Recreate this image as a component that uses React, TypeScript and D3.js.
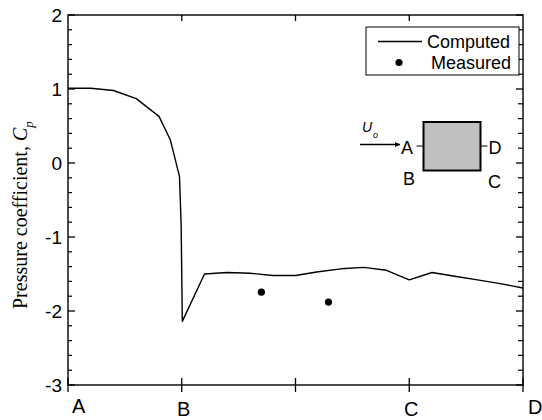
import React from 'react';
import * as d3 from 'd3';

// Computed Cp around the square (A -> B -> C -> D)
const computedPos = [0, 0.2, 0.4, 0.6, 0.8, 0.9, 0.98, 0.995, 1.005, 1.2, 1.4, 1.6, 1.8, 2.0, 2.2, 2.4, 2.6, 2.8, 3.0, 3.2, 3.4, 3.6, 3.8, 4.0];
const computedCp = [1.01, 1.01, 0.98, 0.87, 0.63, 0.31, -0.18, -0.85, -2.14, -1.5, -1.48, -1.49, -1.52, -1.52, -1.47, -1.43, -1.41, -1.45, -1.58, -1.48, -1.53, -1.58, -1.63, -1.69];

// Measured Cp
const measuredPos = [1.7, 2.29];
const measuredCp = [-1.745, -1.88];

const xTickValues = [0, 1, 2, 3, 4];
const xTickLabels = ['A', 'B', '', 'C', 'D'];
const yTickValues = [-3, -2, -1, 0, 1, 2];

const W = 542;
const H = 420;
const margin = { top: 15, right: 19, bottom: 35, left: 68 };
const sans = "'Liberation Sans', Arial, sans-serif";
const serif = "'Liberation Serif', 'Times New Roman', serif";

const App = () => {
  const x = d3.scaleLinear().domain([0, 4]).range([margin.left, W - margin.right]);
  const y = d3.scaleLinear().domain([-3, 2]).range([H - margin.bottom, margin.top]);

  const computed = computedPos.map((p, i) => ({ p, cp: computedCp[i] }));
  const measured = measuredPos.map((p, i) => ({ p, cp: measuredCp[i] }));

  const line = d3.line<{ p: number; cp: number }>()
    .x((d) => x(d.p))
    .y((d) => y(d.cp));

  const minorY = d3.range(-3, 2.0001, 0.2).filter((v) => Math.abs(v - Math.round(v)) > 1e-6);
  const [x0, x1] = x.range();
  const [yb, yt] = y.range();

  // label placement tweaks for the bottom letters
  const labelStyle = (i: number) => {
    if (i === 0) return { anchor: 'start', dx: 4, dy: 28 };
    if (i === xTickLabels.length - 1) return { anchor: 'start', dx: 5, dy: 29 };
    return { anchor: 'middle', dx: 2, dy: 31 };
  };

  return (
    <svg width={W} height={H} style={{ position: 'absolute', left: 0, top: 0, background: '#fff' }}>
      {/* y ticks, left and right, inward */}
      {yTickValues.map((v) => (
        <g key={'yt' + v}>
          <line x1={x0} x2={x0 + 7} y1={y(v)} y2={y(v)} stroke="#000" strokeWidth={1.3} />
          <line x1={x1} x2={x1 - 7} y1={y(v)} y2={y(v)} stroke="#000" strokeWidth={1.3} />
          <text x={x0 - 6} y={y(v)} textAnchor="end" dominantBaseline="central"
            fontFamily={sans} fontSize={19}>{v}</text>
        </g>
      ))}
      {minorY.map((v, i) => (
        <g key={'ym' + i}>
          <line x1={x0} x2={x0 + 4} y1={y(v)} y2={y(v)} stroke="#000" strokeWidth={1.2} />
          <line x1={x1} x2={x1 - 5} y1={y(v)} y2={y(v)} stroke="#000" strokeWidth={1.2} />
        </g>
      ))}

      {/* x ticks: top inward, bottom crossing */}
      {xTickValues.map((v, i) => {
        const s = labelStyle(i);
        return (
          <g key={'xt' + v}>
            {i > 0 && i < xTickValues.length - 1 && (
              <line x1={x(v)} x2={x(v)} y1={yt} y2={yt + 6} stroke="#000" strokeWidth={1.3} />
            )}
            <line x1={x(v)} x2={x(v)} y1={yb - 7} y2={yb + 7} stroke="#000" strokeWidth={1.3} />
            <text x={x(v) + s.dx} y={yb + s.dy} textAnchor={s.anchor}
              fontFamily={sans} fontSize={20}>{xTickLabels[i]}</text>
          </g>
        );
      })}

      {/* frame */}
      <rect x={x0} y={yt} width={x1 - x0} height={yb - yt} fill="none" stroke="#000" strokeWidth={1.4} />

      {/* computed line */}
      <path d={line(computed) || ''} fill="none" stroke="#000" strokeWidth={1.4} strokeLinejoin="round" />

      {/* measured points */}
      {measured.map((d, i) => (
        <circle key={'m' + i} cx={x(d.p)} cy={y(d.cp)} r={3.6} fill="#000" />
      ))}

      {/* y axis title */}
      <text transform={`translate(27, ${(yb + yt) / 2 + 109}) rotate(-90)`} fontFamily={serif} fontSize={20}>
        Pressure coefficient, <tspan fontStyle="italic">C</tspan>
        <tspan fontStyle="italic" fontSize={13} dy={6}>p</tspan>
      </text>

      {/* legend */}
      <g>
        <rect x={366} y={27} width={153} height={48} fill="#fff" stroke="#000" strokeWidth={1} />
        <line x1={378} x2={422} y1={41.5} y2={41.5} stroke="#000" strokeWidth={1.4} />
        <text x={427} y={48} fontFamily={sans} fontSize={18}>Computed</text>
        <circle cx={399} cy={62.5} r={3.6} fill="#000" />
        <text x={431} y={69} fontFamily={sans} fontSize={18}>Measured</text>
      </g>

      {/* inset sketch of the square cylinder */}
      <g fontFamily={sans} fontSize={18}>
        <defs>
          <marker id="ah" viewBox="0 0 10 10" refX={10} refY={5} markerWidth={8} markerHeight={5} orient="auto" markerUnits="userSpaceOnUse">
            <path d="M0,0 L10,5 L0,10 z" fill="#000" />
          </marker>
        </defs>
        <line x1={360} x2={400} y1={144.5} y2={144.5} stroke="#000" strokeWidth={1.3} markerEnd="url(#ah)" />
        <text x={362} y={131.5} fontStyle="italic" fontSize={14}>U</text>
        <text x={373} y={138} fontStyle="italic" fontSize={9}>o</text>
        <rect x={423.5} y={122} width={57} height={48.5} fill="#c0c0c0" stroke="#000" strokeWidth={2} />
        <line x1={416.5} x2={423.5} y1={146} y2={146} stroke="#000" strokeWidth={1} />
        <line x1={480.5} x2={487.5} y1={146} y2={146} stroke="#000" strokeWidth={1} />
        <text x={401} y={153.5}>A</text>
        <text x={488.5} y={153.5}>D</text>
        <text x={403} y={185}>B</text>
        <text x={488} y={187.5}>C</text>
      </g>
    </svg>
  );
};

export default App;
